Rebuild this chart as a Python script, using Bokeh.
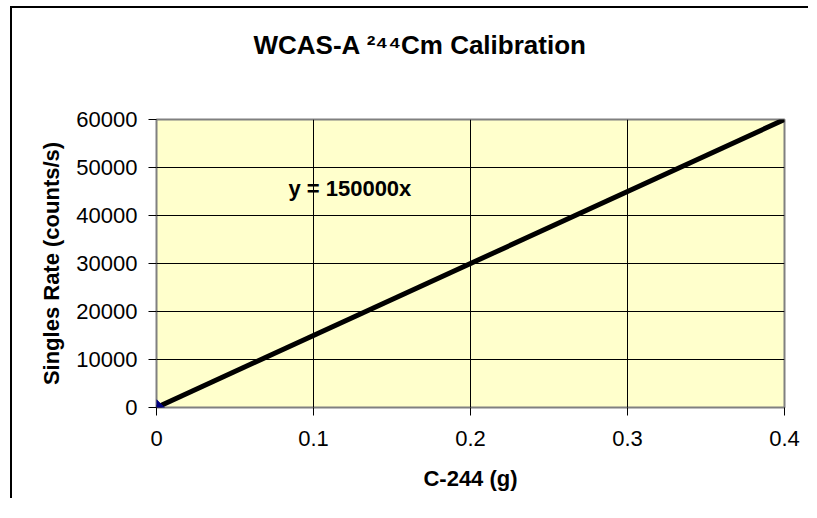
import math
from bokeh.plotting import figure
from bokeh.layouts import column
from bokeh.models import Range1d, FixedTicker, Label, Title
from bokeh.embed import file_html
from bokeh.resources import INLINE

# ---- data ----
data_x = [0.0]
data_y = [0.0]
trend_x = [0.0, 0.4]
trend_y = [0.0, 60000.0]
x_ticks = [0, 0.1, 0.2, 0.3, 0.4]
x_tick_labels = ["0", "0.1", "0.2", "0.3", "0.4"]
y_ticks = [0, 10000, 20000, 30000, 40000, 50000, 60000]
y_tick_labels = ["0", "10000", "20000", "30000", "40000", "50000", "60000"]
title_text = "WCAS-A \u00b2\u2074\u2074Cm Calibration"
x_label = "C-244 (g)"
y_label = "Singles Rate (counts/s)"
equation = "y = 150000x"

FONT = "Liberation Sans"

# canvas origin on the page: x=12, y=8
W, H = 798, 492
p = figure(width=W, height=H, output_backend="svg", toolbar_location=None,
           x_range=Range1d(0, 0.4), y_range=Range1d(0, 60000),
           min_border_left=144, min_border_right=26,
           min_border_top=111, min_border_bottom=93)

p.background_fill_color = "#FFFFCC"
p.border_fill_color = "white"
p.outline_line_color = "#808080"
p.outline_line_width = 2

# title (outermost) with an empty spacer title between it and the plot area
p.title.text = title_text
p.title.text_font = FONT
p.title.text_font_size = "26px"
p.title.text_font_style = "bold"
p.title.text_color = "black"
p.title.align = "left"
p.title.offset = 97
p.title.standoff = 0
p.add_layout(Title(text=" ", text_font_size="2px", standoff=56), "above")

# axes
for ax in (p.xaxis[0], p.yaxis[0]):
    ax.axis_line_color = None
    ax.major_tick_in = 0
    ax.major_tick_out = 8
    ax.major_tick_line_color = "black"
    ax.minor_tick_line_color = None
    ax.major_label_text_font = FONT
    ax.major_label_text_font_size = "22px"
    ax.major_label_text_color = "black"
    ax.axis_label_text_font = FONT
    ax.axis_label_text_font_size = "22px"
    ax.axis_label_text_font_style = "bold"
    ax.axis_label_text_color = "black"

p.xaxis.ticker = FixedTicker(ticks=x_ticks)
p.yaxis.ticker = FixedTicker(ticks=y_ticks)
p.xaxis.major_label_overrides = dict(zip(x_ticks, x_tick_labels))
p.yaxis.major_label_overrides = dict(zip(y_ticks, y_tick_labels))
p.xaxis.axis_label = x_label
p.yaxis.axis_label = y_label
p.xaxis.major_label_standoff = 15
p.yaxis.major_label_standoff = 11
p.xaxis.axis_label_standoff = 17
p.yaxis.axis_label_standoff = 9

p.xgrid.ticker = FixedTicker(ticks=x_ticks)
p.ygrid.ticker = FixedTicker(ticks=y_ticks)
p.xgrid.grid_line_color = "black"
p.ygrid.grid_line_color = "black"
p.xgrid.grid_line_width = 1
p.ygrid.grid_line_width = 1

# trendline and data
p.line(trend_x, trend_y, line_color="black", line_width=5)
p.scatter(data_x, data_y, marker="square", size=11, angle=math.pi / 4,
          fill_color="#000080", line_color="#000080")

# equation label
p.add_layout(Label(x=0.084, y=45630, text=equation, text_font=FONT,
                   text_font_size="22px", text_font_style="bold",
                   text_color="black", text_baseline="alphabetic"))

# outer chart frame: only its left and top edges fall inside the window
layout = column(p, styles={"margin-left": "12px", "margin-top": "8px",
                           "box-shadow": "-2px -2px 0px 0px black"})

open("out.html", "w").write(file_html(layout, INLINE))
